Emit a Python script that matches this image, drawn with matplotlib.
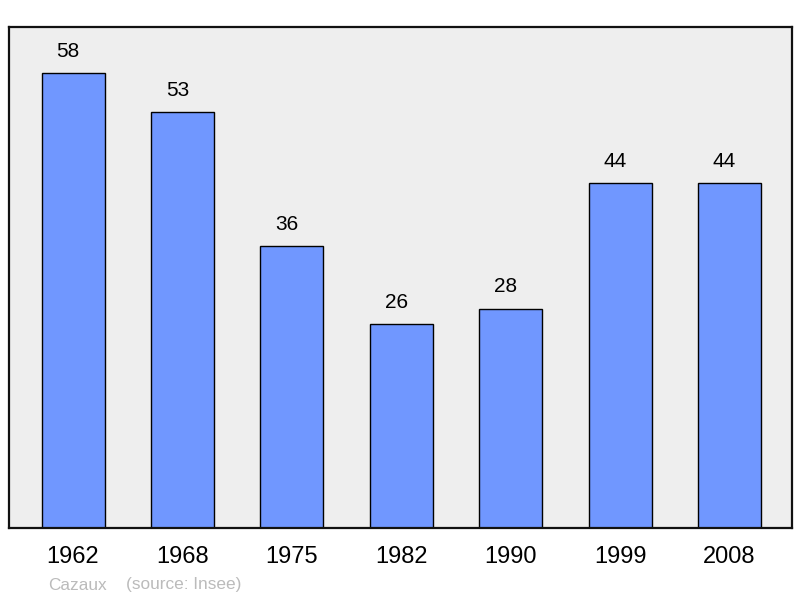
import matplotlib
matplotlib.use("Agg")
import matplotlib.pyplot as plt

plt.rcParams["font.family"] = ["Liberation Sans", "DejaVu Sans"]

years = ["1962", "1968", "1975", "1982", "1990", "1999", "2008"]
population = [58, 53, 36, 26, 28, 44, 44]

fig = plt.figure(figsize=(8, 5.98), dpi=100)
ax = fig.add_axes([0.01125, 0.117, 0.97875, 0.8378])
ax.set_facecolor("#eeeeee")

x = list(range(len(years)))
bars = ax.bar(x, population, width=0.576, color="#7097ff", edgecolor="black",
              linewidth=1.0, zorder=2)
for xi, v in zip(x, population):
    ax.annotate(str(v), (xi, v), xytext=(-3.6, 15.5), textcoords="offset points",
                ha="center", va="center", fontsize=15)

ax.set_xlim(-0.585, 6.57)
ax.set_ylim(0, 63.9)
ax.set_yticks([])
ax.set_xticks(x)
ax.set_xticklabels(years, fontsize=17)
ax.tick_params(axis="x", length=0, pad=13)
for s in ax.spines.values():
    s.set_linewidth(1.6)
    s.set_color("#111111")

fig.text(48 / 800, 1 - 585 / 598, "Cazaux", fontsize=12.4, color="#bbbbbb", va="center")
fig.text(126 / 800, 1 - 585 / 598, "(source: Insee)", fontsize=12.4, color="#bbbbbb", va="center")

fig.savefig("out.png", dpi=100)
